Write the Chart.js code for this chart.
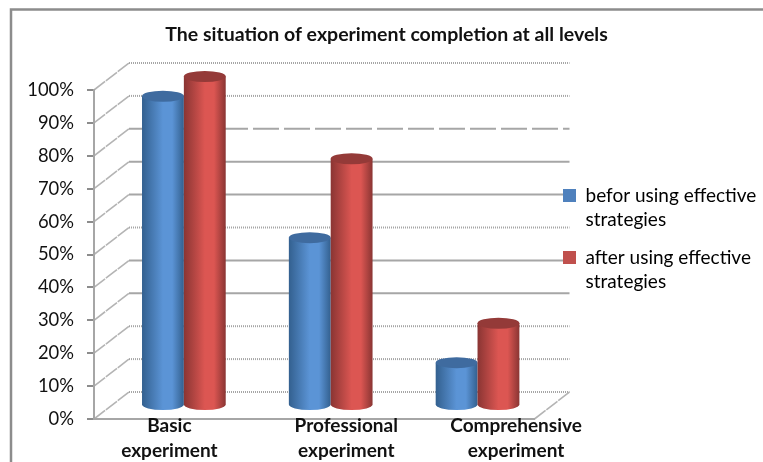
<!DOCTYPE html>
<html>
<head>
<meta charset="utf-8">
<style>
  html, body { margin: 0; padding: 0; background: #fff; }
  #wrap { width: 763px; height: 462px; }
</style>
<script src="https://cdn.jsdelivr.net/npm/chart.js@4"></script>
</head>
<body>
<div id="wrap"><canvas id="chart" width="763" height="462"></canvas></div>
<script>
const categories = [['Basic', 'experiment'], ['Professional', 'experiment'], ['Comprehensive', 'experiment']]
const beforeValues = [94, 51, 13]
const afterValues = [100, 75, 25]
const beforeLabel = ['befor using effective', 'strategies']
const afterLabel = ['after using effective', 'strategies']
const chartTitle = 'The situation of experiment completion at all levels'

const FONT = 'Lato, "Open Sans", sans-serif'
const depthX = 35
const depthY = 27
// category labels sit off-centre in the original
const labelShift = [2, 32, 55]

const palette = [
  { edge: '#33608f', mid: '#5b94d6', top: '#3f6b9f', key: '#4f81bd' },
  { edge: '#8a3533', mid: '#dc5652', top: '#943a38', key: '#c0504d' }
]

// rough per-line look of the back wall, index 0 = 0%
const gridDash = [[1, 1], [1, 1], [1, 1], [], [], [1, 1], [], [], [26, 5], [1, 1], [1, 1]]

const wallPlugin = {
  id: 'wall',
  beforeDraw(chart) {
    const { ctx, width, height, chartArea, scales } = chart
    const { y } = scales
    ctx.save()
    ctx.fillStyle = '#fff'
    ctx.fillRect(0, 0, width, height)
    ctx.strokeStyle = '#8c8c8c'
    ctx.lineWidth = 2.5
    ctx.beginPath()
    ctx.moveTo(11, height)
    ctx.lineTo(11, 9.5)
    ctx.lineTo(width, 9.5)
    ctx.stroke()

    // back wall and its joins to the front axis, under the legend
    y.ticks.forEach((tick, i) => {
      const py = y.getPixelForValue(tick.value)
      ctx.strokeStyle = '#a6a6a6'
      ctx.lineWidth = 2
      ctx.setLineDash(gridDash[i] || [])
      ctx.beginPath()
      ctx.moveTo(chartArea.left + depthX, py - depthY)
      ctx.lineTo(chartArea.right + depthX, py - depthY)
      ctx.stroke()
      ctx.strokeStyle = '#b4b4b4'
      ctx.lineWidth = 1.6
      ctx.setLineDash([14, 1])
      ctx.beginPath()
      ctx.moveTo(chartArea.left, py)
      ctx.lineTo(chartArea.left + depthX, py - depthY)
      ctx.stroke()
    })
    // floor edge on the right
    const py0 = y.getPixelForValue(0)
    ctx.beginPath()
    ctx.moveTo(chartArea.right, py0)
    ctx.lineTo(chartArea.right + depthX, py0 - depthY)
    ctx.stroke()
    ctx.restore()
  },
  afterLayout(chart) {
    // legend box position is fixed by hand, chart.js would centre it
    chart.legend.left = 550
    chart.legend.right = 763
    chart.legend.top = 173
    chart.legend.bottom = 320
  },
  afterDatasetsDraw(chart) {
    const { ctx } = chart
    chart.data.datasets.forEach((ds, d) => {
      const colors = palette[d]
      chart.getDatasetMeta(d).data.forEach(bar => {
        const cx = bar.x + depthX * 0.47
        const half = bar.width / 2
        const topY = bar.y - depthY / 2
        const baseY = bar.base - depthY / 2
        const ry = 5.5
        const grad = ctx.createLinearGradient(cx - half, 0, cx + half, 0)
        grad.addColorStop(0, colors.edge)
        grad.addColorStop(0.5, colors.mid)
        grad.addColorStop(0.72, colors.mid)
        grad.addColorStop(1, colors.edge)
        ctx.save()
        ctx.fillStyle = grad
        ctx.beginPath()
        ctx.moveTo(cx - half, topY)
        ctx.lineTo(cx - half, baseY)
        ctx.ellipse(cx, baseY, half, ry, 0, Math.PI, 0, true)
        ctx.lineTo(cx + half, topY)
        ctx.closePath()
        ctx.fill()
        ctx.fillStyle = colors.top
        ctx.beginPath()
        ctx.ellipse(cx, topY, half, ry, 0, 0, Math.PI * 2)
        ctx.fill()
        ctx.restore()
      })
    })
  },
  afterDraw(chart) {
    const { ctx, scales } = chart
    ctx.save()
    ctx.fillStyle = '#111'
    ctx.font = 'bold 19px ' + FONT
    ctx.textAlign = 'center'
    ctx.textBaseline = 'middle'
    categories.forEach((lines, i) => {
      const px = scales.x.getPixelForTick(i) + labelShift[i]
      lines.forEach((line, l) => ctx.fillText(line, px, 426 + l * 25))
    })
    ctx.restore()
  }
}

new Chart(document.getElementById('chart'), {
  type: 'bar',
  data: {
    labels: categories,
    datasets: [
      { label: beforeLabel, data: beforeValues, backgroundColor: 'transparent' },
      { label: afterLabel, data: afterValues, backgroundColor: 'transparent' }
    ]
  },
  plugins: [wallPlugin],
  options: {
    responsive: false,
    animation: false,
    layout: { padding: { left: 25, right: 15, top: 0, bottom: 0 } },
    datasets: { bar: { categoryPercentage: 0.57, barPercentage: 1 } },
    plugins: {
      title: {
        display: true,
        text: chartTitle,
        color: '#111',
        font: { family: FONT, size: 19.5, weight: 'bold', lineHeight: 1.2 },
        padding: { top: 23.5, bottom: 43.1 }
      },
      legend: {
        position: 'right',
        align: 'start',
        labels: {
          boxWidth: 13,
          boxHeight: 13,
          padding: 13,
          color: '#111',
          font: { family: FONT, size: 19, lineHeight: 1.29 },
          generateLabels: chart => chart.data.datasets.map((ds, i) => ({
            text: ds.label,
            fillStyle: palette[i].key,
            strokeStyle: palette[i].key,
            lineWidth: 0,
            datasetIndex: i
          }))
        }
      },
      tooltip: { enabled: false }
    },
    scales: {
      x: {
        grid: { display: false },
        border: { display: true, color: '#a6a6a6', width: 2, dash: [1, 1] },
        ticks: { display: false },
        afterFit(scale) { scale.height = 43 }
      },
      y: {
        min: 0,
        max: 100,
        ticks: {
          stepSize: 10,
          color: '#111',
          padding: 13,
          font: { family: FONT, size: 18.4 },
          callback: v => v + '%'
        },
        grid: { drawOnChartArea: false, drawTicks: true, tickLength: 7, color: '#8c8c8c', lineWidth: 2 },
        border: { display: true, color: '#a6a6a6', width: 2 },
        afterFit(scale) { scale.width = 69 }
      },
      // empty axis, only holds the plot area away from the legend
      spacer: {
        type: 'linear',
        axis: 'y',
        position: 'right',
        ticks: { display: false },
        grid: { display: false },
        border: { display: false },
        afterFit(scale) { scale.width = 93 }
      }
    }
  }
})
</script>
</body>
</html>
